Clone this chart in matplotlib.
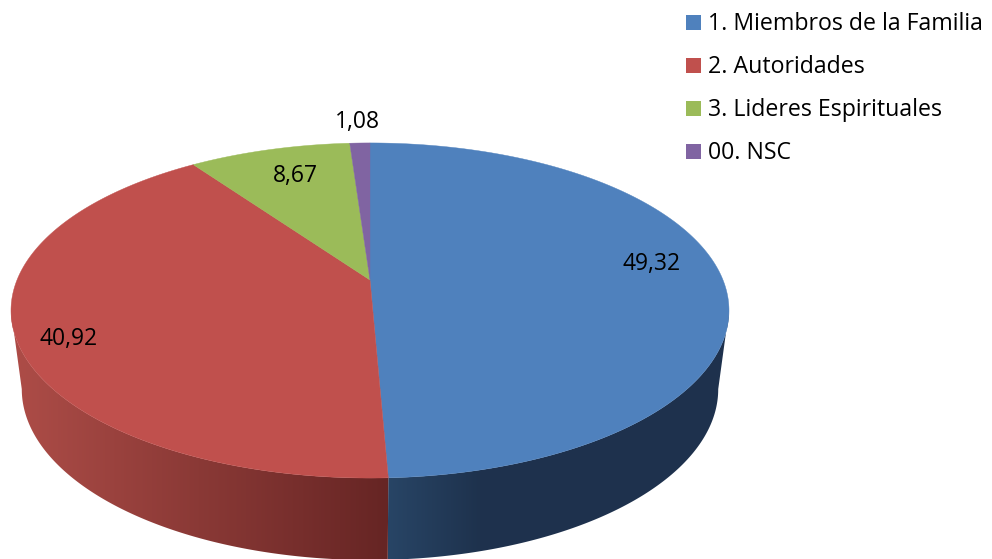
import numpy as np
import matplotlib
matplotlib.use('Agg')
import matplotlib.pyplot as plt
from matplotlib.patches import Polygon, Rectangle

plt.rcParams['font.family'] = ['Open Sans', 'DejaVu Sans']

# --- DATA ---
categories = ['1. Miembros de la Familia', '2. Autoridades', '3. Lideres Espirituales', '00. NSC']
values = [49.32, 40.92, 8.67, 1.08]
value_labels = ['49,32', '40,92', '8,67', '1,08']

colors = ['#4F81BD', '#C0504D', '#9BBB59', '#8064A2']
# side shading, (rgb at left end, rgb at right end, x range in pixels)
side_shades = [
    ((0.157, 0.271, 0.400), (0.118, 0.196, 0.302), (387, 480)),
    ((0.675, 0.298, 0.278), (0.400, 0.145, 0.141), (20, 387)),
    ((0.40, 0.50, 0.24), (0.40, 0.50, 0.24), (0, 1)),
    ((0.33, 0.26, 0.42), (0.33, 0.26, 0.42), (0, 1)),
]
label_pos = [(652, 264), (69, 339), (295, 176), (357, 122)]

# perspective of the pie disc, in pixels
CX, CY = 370, 280
A, B, K = 353, 162, 0.182
DEPTH, SHRINK_X, SHRINK_Y = 78, 0.97, 1.02


def project(theta, dy=0.0, sx=1.0, sy=1.0):
    u = np.sin(theta)
    v = np.cos(theta)
    w = 1 + K * v
    return CX + sx * A * u / w, CY + dy - sy * B * v / w


fig = plt.figure(figsize=(9.92, 5.59), dpi=100)
ax = fig.add_axes([0, 0, 1, 1])
ax.set_xlim(0, 992)
ax.set_ylim(559, 0)
ax.axis('off')

edges = np.concatenate([[0], np.cumsum(values)]) / np.sum(values) * 2 * np.pi

# only the front of the wall shows, between the two silhouette angles
front_a = np.arccos(-K)
front_b = 2 * np.pi - front_a

for i in range(len(values)):
    t0, t1 = max(edges[i], front_a), min(edges[i + 1], front_b)
    if t1 <= t0:
        continue
    th = np.linspace(t0, t1, 300)
    xt, yt = project(th)
    xb, yb = project(th[::-1], dy=DEPTH, sx=SHRINK_X, sy=SHRINK_Y)
    poly = Polygon(np.c_[np.r_[xt, xb], np.r_[yt, yb]], closed=True, transform=ax.transData,
                   facecolor='none', edgecolor='none')
    ax.add_patch(poly)

    c0, c1, (x0, x1) = side_shades[i]
    xs = np.arange(0, 992)
    f = np.clip((xs - x0) / (x1 - x0), 0, 1)[None, :, None]
    img = np.array(c0)[None, None, :] + f * (np.array(c1) - np.array(c0))[None, None, :]
    im = ax.imshow(img, extent=(0, 992, 559, 0), aspect='auto', interpolation='bilinear', zorder=2)
    im.set_clip_path(poly)

ax.set_xlim(0, 992)
ax.set_ylim(559, 0)

for i in range(len(values)):
    th = np.linspace(edges[i], edges[i + 1], 300)
    x, y = project(th)
    ax.fill(np.r_[CX, x], np.r_[CY, y], color=colors[i], lw=0.3, zorder=3)

for txt, (x, y) in zip(value_labels, label_pos):
    ax.text(x, y, txt, ha='center', va='center', fontsize=16.5, color='black', zorder=5)

# legend
for i, name in enumerate(categories):
    ytop = 15 + i * 43
    ax.add_patch(Rectangle((686, ytop), 15, 15, color=colors[i], lw=0, zorder=5))
    ax.text(708, ytop + 9, name, ha='left', va='center', fontsize=16.7, color='black', zorder=5)

fig.savefig('out.png', dpi=100)
